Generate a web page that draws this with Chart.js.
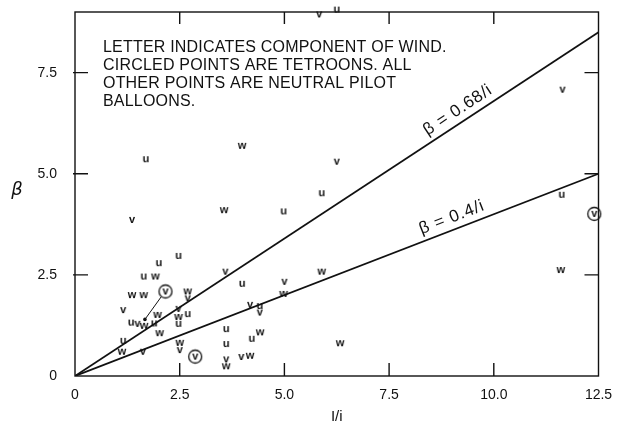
<!DOCTYPE html>
<html>
<head>
<meta charset="utf-8">
<script src="https://cdn.jsdelivr.net/npm/chart.js@4.4.0/dist/chart.umd.min.js"></script>
<style>
  html, body { margin: 0; padding: 0; background: #fff; }
</style>
</head>
<body>
<canvas id="beta" width="622" height="428"></canvas>
<script>
const xTicks = [0, 2.5, 5, 7.5, 10, 12.5];
const xTickLabels = ['0', '2.5', '5.0', '7.5', '10.0', '12.5'];
const yTicks = [0, 2.5, 5, 7.5];
const yTickLabels = ['0', '2.5', '5.0', '7.5'];

// points marked "u" (last one sits on the top border, off scale)
const uX = [1.69, 2.47, 2.00, 1.64, 1.34, 1.89, 2.69, 2.47, 1.15, 3.99, 4.41, 3.61, 3.61, 4.22, 4.98, 5.89, 11.62, 6.25];
const uY = [5.36, 2.97, 2.79, 2.46, 1.32, 1.30, 1.53, 1.29, 0.87, 2.28, 1.73, 1.16, 0.79, 0.92, 4.07, 4.52, 4.48, 9.06];
// points marked "v"
const vX = [1.36, 1.15, 1.49, 2.69, 2.47, 1.62, 2.50, 3.59, 4.18, 4.41, 3.61, 3.97, 5.00, 6.25, 11.64, 5.83];
const vY = [3.86, 1.63, 1.29, 1.92, 1.66, 0.60, 0.64, 2.58, 1.76, 1.57, 0.41, 0.47, 2.33, 5.30, 7.08, 8.94];
// points marked "w"
const wX = [3.99, 3.56, 1.92, 1.36, 1.64, 2.69, 1.65, 1.97, 2.02, 2.47, 1.12, 2.50, 3.61, 4.18, 4.42, 4.98, 5.89, 6.33, 11.60];
const wY = [5.69, 4.10, 2.46, 2.00, 2.00, 2.09, 1.24, 1.51, 1.06, 1.46, 0.60, 0.82, 0.24, 0.50, 1.08, 2.03, 2.58, 0.81, 2.62];
// tetroons (circled v)
const tX = [2.16, 2.87, 12.40];
const tY = [2.09, 0.48, 4.01];
// dot with leader to the first tetroon
const leaderX = [1.67, 2.06];
const leaderY = [1.40, 1.96];

// beta = 0.68/i and beta = 0.4/i
const fitX = [0, 12.5];
const fitHigh = [0, 8.5];
const fitLow = [0, 5.0];
const fitLabels = ['\u03b2 = 0.68/i', '\u03b2 = 0.4/i'];

const noteLines = [
  'LETTER INDICATES COMPONENT OF WIND.',
  'CIRCLED POINTS ARE TETROONS. ALL',
  'OTHER POINTS ARE NEUTRAL PILOT',
  'BALLOONS.'
];

const ink = '#111';

function pts(xs, ys) {
  return xs.map((x, i) => ({ x: x, y: ys[i] }));
}

function glyph(ch, ring) {
  const c = document.createElement('canvas');
  c.width = 18; c.height = 18;
  const g = c.getContext('2d');
  g.fillStyle = ink;
  g.font = 'bold 11px "Liberation Sans"';
  g.textAlign = 'center';
  g.textBaseline = 'middle';
  g.fillText(ch, 9, 9);
  if (ring) {
    g.beginPath();
    g.arc(9, 9, 6.5, 0, Math.PI * 2);
    g.lineWidth = 1.3;
    g.strokeStyle = ink;
    g.stroke();
  }
  return c;
}

function letters(xs, ys, img) {
  return {
    data: pts(xs, ys),
    pointStyle: img,
    pointRadius: 5,
    pointHoverRadius: 5,
    showLine: false,
    clip: false
  };
}

const frame = {
  id: 'frame',
  afterDraw(chart) {
    const { ctx, chartArea: a, scales: { x, y } } = chart;
    ctx.save();
    ctx.strokeStyle = ink;
    ctx.lineWidth = 1.4;
    ctx.strokeRect(a.left, a.top, a.right - a.left, a.bottom - a.top);

    // inward ticks on all four sides
    ctx.beginPath();
    xTicks.slice(1, -1).forEach(v => {
      const px = x.getPixelForValue(v);
      ctx.moveTo(px, a.bottom); ctx.lineTo(px, a.bottom - 13);
      ctx.moveTo(px, a.top); ctx.lineTo(px, a.top + 12);
    });
    yTicks.slice(1).forEach(v => {
      const py = y.getPixelForValue(v);
      ctx.moveTo(a.left - 2, py); ctx.lineTo(a.left + 13, py);
      ctx.moveTo(a.right, py); ctx.lineTo(a.right - 14, py);
    });
    ctx.stroke();

    ctx.fillStyle = ink;
    ctx.font = '16px "Liberation Sans"';
    ctx.letterSpacing = '0.2px';
    ctx.textAlign = 'left';
    ctx.textBaseline = 'middle';
    noteLines.forEach((t, i) => ctx.fillText(t, a.left + 28, a.top + 36 + i * 18));

    // labels along the two lines
    const x0 = x.getPixelForValue(0), x1 = x.getPixelForValue(12.5);
    [[fitHigh, 9.3], [fitLow, 9.1]].forEach(([ys, at], i) => {
      const slope = ys[1] / fitX[1];
      const ang = Math.atan2(y.getPixelForValue(ys[1]) - y.getPixelForValue(0), x1 - x0);
      ctx.save();
      ctx.translate(x.getPixelForValue(at), y.getPixelForValue(slope * at));
      ctx.rotate(ang);
      ctx.font = '17px "Liberation Sans"';
      ctx.letterSpacing = '0.8px';
      ctx.textAlign = 'center';
      ctx.textBaseline = 'middle';
      ctx.fillText(fitLabels[i], 0, -12);
      ctx.restore();
    });

    ctx.letterSpacing = '0px';
    ctx.font = 'italic 18px "DejaVu Sans"';
    ctx.textAlign = 'center';
    ctx.textBaseline = 'middle';
    ctx.fillText('\u03b2', 17, y.getPixelForValue(4.6));
    ctx.restore();
  }
};

new Chart(document.getElementById('beta'), {
  type: 'scatter',
  data: {
    datasets: [
      letters(uX, uY, glyph('u', false)),
      letters(vX, vY, glyph('v', false)),
      letters(wX, wY, glyph('w', false)),
      letters(tX, tY, glyph('v', true)),
      {
        data: pts(leaderX, leaderY),
        showLine: true,
        borderColor: ink,
        borderWidth: 1,
        pointRadius: [1.8, 0],
        pointBackgroundColor: ink,
        pointBorderWidth: 0
      },
      {
        data: pts(fitX, fitHigh),
        showLine: true,
        borderColor: ink,
        borderWidth: 1.8,
        pointRadius: 0
      },
      {
        data: pts(fitX, fitLow),
        showLine: true,
        borderColor: ink,
        borderWidth: 1.8,
        pointRadius: 0
      }
    ]
  },
  options: {
    responsive: false,
    animation: false,
    devicePixelRatio: 1,
    layout: { padding: { top: 12, right: 23.5, left: 0, bottom: 0 } },
    plugins: { legend: { display: false }, tooltip: { enabled: false } },
    scales: {
      x: {
        type: 'linear',
        min: 0,
        max: 12.5,
        afterBuildTicks: s => { s.ticks = xTicks.map(v => ({ value: v })); },
        afterFit: s => { s.height = 52; s.paddingLeft = 0; s.paddingRight = 0; },
        grid: { display: false, drawTicks: false },
        border: { display: false },
        ticks: {
          padding: 11,
          color: ink,
          font: { family: 'Liberation Sans', size: 14 },
          maxRotation: 0,
          callback: (v, i) => xTickLabels[i]
        },
        title: {
          display: true,
          text: 'I/i',
          color: ink,
          font: { family: 'Liberation Sans', size: 15 },
          padding: { top: 0, bottom: 2 }
        }
      },
      y: {
        type: 'linear',
        min: 0,
        max: 9,
        afterBuildTicks: s => { s.ticks = yTicks.map(v => ({ value: v })); },
        afterFit: s => { s.width = 75; s.paddingTop = 0; s.paddingBottom = 0; },
        grid: { display: false, drawTicks: false },
        border: { display: false },
        ticks: {
          padding: 18,
          color: ink,
          font: { family: 'Liberation Sans', size: 14 },
          callback: (v, i) => yTickLabels[i]
        }
      }
    }
  },
  plugins: [frame]
});
</script>
</body>
</html>
